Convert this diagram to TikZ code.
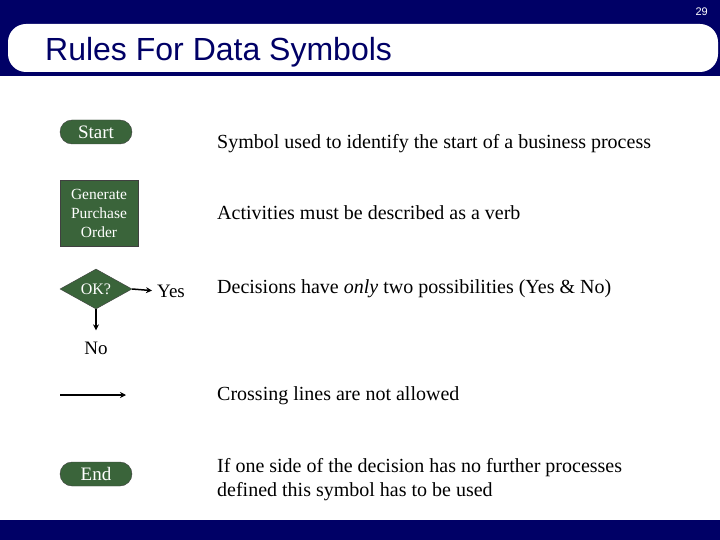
\documentclass[tikz,border=0pt]{standalone}
\usepackage{fontspec}
\setmainfont{Liberation Serif}
\newfontfamily\headfont{Liberation Sans}
\usetikzlibrary{shapes.geometric, arrows.meta, positioning}
\definecolor{navy}{RGB}{0,0,102}
\definecolor{flowgreen}{RGB}{58,100,58}
\tikzstyle{terminal} = [rectangle, draw=black!75, fill=flowgreen, text=white,
    rounded corners=12pt, minimum width=72pt, minimum height=24pt,
    inner sep=0pt, font=\fontsize{19}{22}\selectfont]
\tikzstyle{process} = [rectangle, draw=black!75, fill=flowgreen, text=white,
    minimum width=78pt, minimum height=66pt, align=center, inner sep=0pt,
    font=\fontsize{15.5}{19}\selectfont]
\tikzstyle{decision} = [diamond, draw=black!75, fill=flowgreen, text=white,
    minimum width=72pt, minimum height=40pt, aspect=1.8, inner sep=0pt,
    font=\fontsize{16}{19}\selectfont]
\tikzstyle{note} = [anchor=base west, inner sep=0pt, align=left,
    font=\fontsize{20}{24}\selectfont]
\tikzstyle{answer} = [inner sep=2pt, font=\fontsize{19}{22}\selectfont]
\tikzstyle{arrow} = [line width=1.5pt, -{Stealth[length=6pt, width=6pt]}]

\begin{document}
\begin{tikzpicture}[x=1pt, y=-1pt]
    \useasboundingbox (0,0) rectangle (720,540);
    % Title band and footer
    \fill [navy] (0,0) rectangle (720,76);
    \fill [white, rounded corners=18pt] (8,24) rectangle (718,72);
    \fill [navy] (0,520) rectangle (720,540);
    \node [anchor=base east, inner sep=0pt, text=white,
        font=\headfont\fontsize{11}{13}\selectfont] (pagenum) at (708,16) {29};
    \node [anchor=base west, inner sep=0pt, text=navy,
        font=\headfont\fontsize{32}{36}\selectfont] (title) at (45,61)
        {Rules For Data Symbols};

    % Symbols
    \node [terminal] (start) at (96,132) {Start};
    \node [process] (activity) at (99,213) {Generate\\Purchase\\Order};
    \node [decision] (ok) at (96,289) {OK?};
    \node [answer, anchor=base west] (yes) at (155,297) {Yes};
    \node [answer, anchor=base] (no) at (96,354) {No};
    \coordinate (linestart) at (60,395);
    \coordinate (lineend) at (126,395);
    \node [terminal] (end) at (96,474) {End};

    % Arrows
    \draw [arrow, shorten >=3pt] (ok.east) -- (yes.west);
    \draw [arrow, shorten >=9pt] (ok.south) -- (no.north);
    \draw [arrow] (linestart) -- (lineend);

    % Rules
    \node [note] (startnote) at (217,149)
        {Symbol used to identify the start of a business process};
    \node [note] (activitynote) at (217,220)
        {Activities must be described as a verb};
    \node [note] (decisionnote) at (217,293)
        {Decisions have \textit{only} two possibilities (Yes \& No)};
    \node [note] (linenote) at (217,400) {Crossing lines are not allowed};
    \node [note] (endnote) at (217,496)
        {If one side of the decision has no further processes\\defined this symbol has to be used};
\end{tikzpicture}
\end{document}
